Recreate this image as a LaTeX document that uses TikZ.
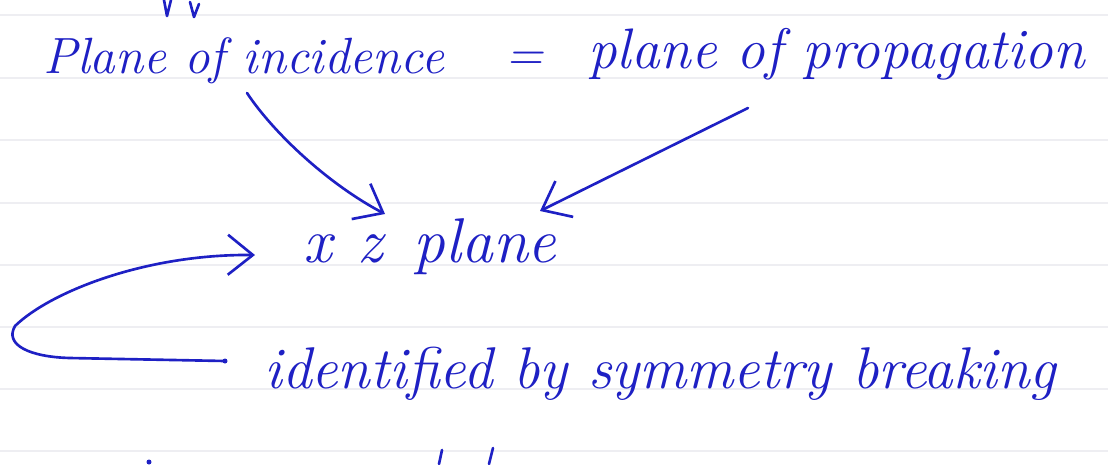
\documentclass[tikz,border=0pt]{standalone}
\usetikzlibrary{arrows.meta, calc}
\definecolor{Ink}{HTML}{1E20C4}
\definecolor{Rule}{HTML}{EEEEF2}
\definecolor{Paper}{HTML}{FFFFFF}

\begin{document}
\begin{tikzpicture}[
  x=0.02cm, y=-0.02cm,
  hand/.style={text=Ink, inner sep=0pt, anchor=base west,
    font=\fontsize{#1}{#1}\selectfont\itshape},
  pen/.style={draw=Ink, line width=1.5pt, line cap=round, line join=round},
  arrow/.style={pen, -{Straight Barb[length=5mm, width=8mm, line width=1.5pt]}},
  ruling/.style={draw=Rule, line width=0.6pt}
]

% page and notebook rulings
\useasboundingbox (0,0) rectangle (1108,464);
\fill[Paper] (0,0) rectangle (1108,464);
\foreach \yy in {15,78,140,203,265,327,389,451}
  \draw[ruling] (0,\yy) -- (1108,\yy);

% cut-off strokes of the lines above and below
\draw[pen] (164,0) -- (167,16) -- (171,0);
\draw[pen] (190,2) -- (194,17) -- (199,4);
\fill[Ink] (149,462) circle (2.5);
\draw[pen] (439,464) -- (442,450);
\draw[pen] (489,464) -- (493,448);

% text lines
\node[hand=29] (incid) at (43,73) {Plane of incidence};
\node[hand=29] (eq) at (505,70) {=};
\node[hand=32.5] (prop) at (588,68) {plane of propagation};
\node[hand=36] (xz) at (303,262) {x\hspace{0.4em}z\hspace{0.5em}plane};
\node[hand=33.5] (ident) at (264,388) {identified by symmetry breaking};

% connector ends
\coordinate (incTail) at (247,93);
\coordinate (propTail) at (748,108);
\coordinate (xzLeft) at (385,214);
\coordinate (xzRight) at (540,211);
\coordinate (identDot) at (225,361);
\coordinate (xzEntry) at (255,255);

% arrows
\draw[arrow] (incTail) .. controls (275,135) and (330,185) .. (xzLeft);
\draw[arrow] (propTail) -- (xzRight);
\fill[Ink] (identDot) circle (2.5);
\draw[arrow] (identDot) -- (70,358)
  .. controls (30,357) and (4,345) .. (15,326)
  .. controls (50,292) and (145,254) .. (xzEntry);

\end{tikzpicture}
\end{document}
